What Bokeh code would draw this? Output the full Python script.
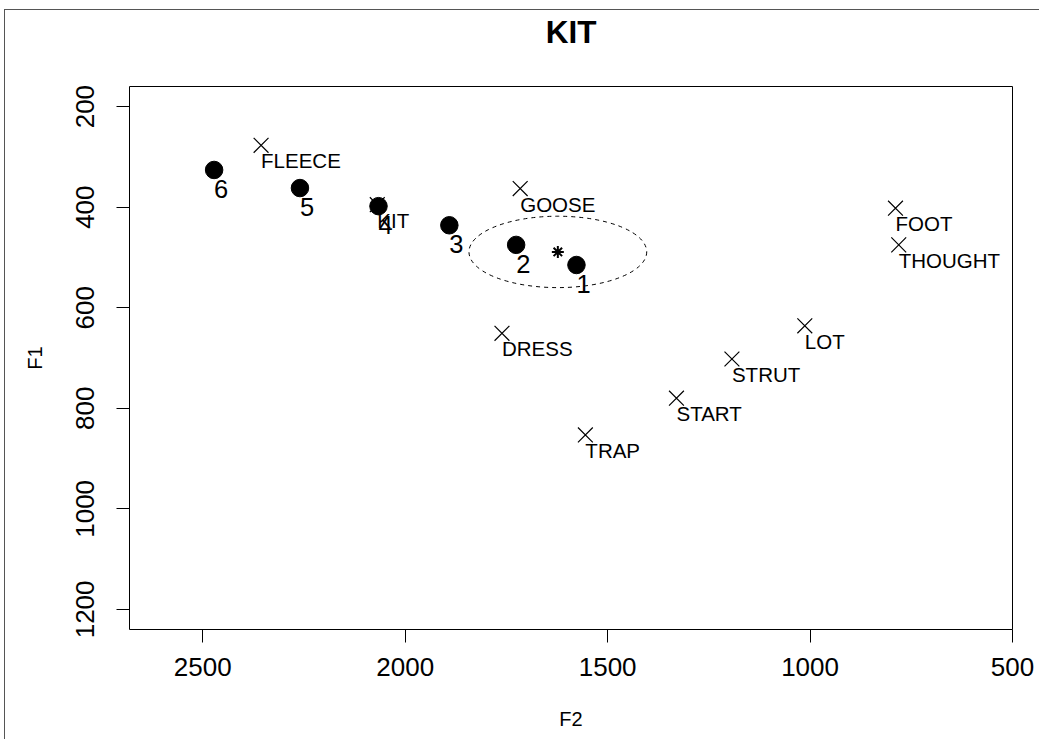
from bokeh.plotting import figure
from bokeh.models import Range1d, FixedTicker, ColumnDataSource, Title
from bokeh.core.properties import value
from bokeh.embed import file_html
from bokeh.resources import INLINE

# ---- data ----
title_text = "KIT"
x_label = "F2"
y_label = "F1"

token_f2 = [1577, 1726, 1891, 2066, 2260, 2472]
token_f1 = [515, 475, 436, 398, 362, 326]
token_labels = ["1", "2", "3", "4", "5", "6"]

ref_vowels = ["FLEECE", "GOOSE", "KIT", "DRESS", "TRAP", "START", "STRUT", "LOT", "FOOT", "THOUGHT"]
ref_f2 = [2356, 1716, 2069, 1761, 1555, 1330, 1193, 1013, 789, 781]
ref_f1 = [277, 363, 395, 651, 853, 780, 702, 636, 402, 475]

mean_f2 = [1623]
mean_f1 = [489]
ellipse_width_f2 = [439]
ellipse_height_f1 = [142]

x_ticks = [2500, 2000, 1500, 1000, 500]
y_ticks = [200, 400, 600, 800, 1000, 1200]

FONT = "Liberation Sans"
X_RANGE = (2681, 500)
Y_RANGE = (1240, 160)

p = figure(width=1035, height=730, output_backend="svg", toolbar_location=None,
           x_range=Range1d(*X_RANGE), y_range=Range1d(*Y_RANGE),
           min_border_left=124, min_border_right=28, min_border_top=76, min_border_bottom=111)
p.styles = {"border-top": "1px solid #555", "border-left": "1px solid #555",
            "margin-left": "4px", "margin-top": "9px"}

# title, with a thin spacer between it and the plot frame
p.add_layout(Title(text=" ", text_font_size="1px", standoff=34), "above")
p.title.text = title_text
p.title.text_font = FONT
p.title.text_font_size = "31.5px"
p.title.text_font_style = "bold"
p.title.text_color = "black"
p.title.align = "center"
p.title.standoff = 0

p.grid.visible = False
p.outline_line_color = "black"
p.outline_line_width = 1
p.background_fill_color = "white"
p.border_fill_color = "white"

for ax in (p.xaxis[0], p.yaxis[0]):
    ax.axis_line_color = None
    ax.major_tick_line_color = "black"
    ax.major_tick_out = 13
    ax.major_tick_in = 0
    ax.minor_tick_line_color = None
    ax.major_label_text_font = FONT
    ax.major_label_text_font_size = "26px"
    ax.major_label_text_color = "black"
    ax.axis_label_text_font = FONT
    ax.axis_label_text_font_size = "20px"
    ax.axis_label_text_font_style = "normal"
    ax.axis_label_text_color = "black"

p.xaxis[0].ticker = FixedTicker(ticks=x_ticks)
p.yaxis[0].ticker = FixedTicker(ticks=y_ticks)
p.xaxis[0].axis_label = x_label
p.yaxis[0].axis_label = y_label
p.xaxis[0].major_label_standoff = 15
p.xaxis[0].axis_label_standoff = 29
p.yaxis[0].major_label_standoff = 22
p.yaxis[0].axis_label_standoff = 28
p.yaxis[0].major_label_orientation = "vertical"

# ellipse
p.ellipse(x=mean_f2, y=mean_f1, width=ellipse_width_f2, height=ellipse_height_f1,
          fill_color=None, line_color="black", line_width=1, line_dash="4 4")

# reference vowels
ref_src = ColumnDataSource(dict(x=ref_f2, y=ref_f1, t=ref_vowels))
p.scatter(x="x", y="y", source=ref_src, marker="x", size=21, line_color="black", line_width=1.2)
p.text(x="x", y="y", text="t", source=ref_src, text_font=value(FONT), text_font_size="20.5px",
       text_align="left", text_baseline="alphabetic", y_offset=15.5, text_color="black")

# tokens
tok_src = ColumnDataSource(dict(x=token_f2, y=token_f1, t=token_labels))
p.scatter(x="x", y="y", source=tok_src, marker="circle", size=17.5, fill_color="black", line_color="black")
p.text(x="x", y="y", text="t", source=tok_src, text_font=value(FONT), text_font_size="25.5px",
       text_align="left", text_baseline="alphabetic", y_offset=19, text_color="black")

# mean
p.scatter(x=mean_f2, y=mean_f1, marker="asterisk", size=12, line_color="black", line_width=2)

open("out.html", "w").write(file_html(p, INLINE))
